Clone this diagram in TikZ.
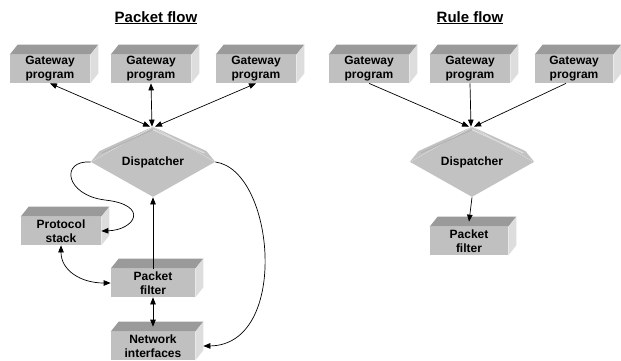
\documentclass[tikz,border=0pt]{standalone}
\usepackage{fontspec}
\setmainfont{Liberation Sans}
\usepackage{tikz}
\usetikzlibrary{shapes.geometric,arrows.meta}

\definecolor{boxfront}{HTML}{C0C0C0}
\definecolor{boxtop}{HTML}{9A9A9A}
\definecolor{boxside}{HTML}{DDDDDD}
\definecolor{dispfill}{HTML}{C2C2C2}

\tikzset{
  block/.style={fill=boxfront, minimum width=80, minimum height=28, inner sep=0pt,
    align=center, font=\bfseries\fontsize{12}{14}\selectfont},
  dispatch/.style={diamond, aspect=1.8, fill=dispfill, minimum width=124, minimum height=70,
    inner sep=0pt, font=\bfseries\fontsize{12}{14}\selectfont},
  heading/.style={anchor=base, font=\bfseries\fontsize{15}{18}\selectfont},
  onearrow/.style={-{Triangle[length=7pt,width=5.5pt]}},
  twoarrow/.style={{Triangle[length=7pt,width=5.5pt]}-{Triangle[length=7pt,width=5.5pt]}},
}

\begin{document}
\begin{tikzpicture}[x=1pt, y=-1pt, line width=0.7pt]
  \useasboundingbox (0,0) rectangle (621,360);

  \node[heading] (packetflow) at (156,22) {\underline{Packet flow}};
  \node[heading] (ruleflow) at (470,22) {\underline{Rule flow}};

  \node[block] (gw1) at (50,69) {Gateway\\program};
  \node[block] (gw2) at (151,69) {Gateway\\program};
  \node[block] (gw3) at (256,69) {Gateway\\program};
  \node[dispatch] (disp) at (153,162) {Dispatcher};
  \node[block] (stack) at (61,231) {Protocol\\stack};
  \node[block, minimum width=84] (filter) at (153,283) {Packet\\filter};
  \node[block, minimum width=84] (nic) at (153,346) {Network\\interfaces};

  \node[block] (rgw1) at (369,69) {Gateway\\program};
  \node[block] (rgw2) at (470,69) {Gateway\\program};
  \node[block, minimum width=78] (rgw3) at (574,69) {Gateway\\program};
  \node[dispatch] (rdisp) at (472,162) {Dispatcher};
  \node[block, minimum width=78] (rfilter) at (469,241) {Packet\\filter};

  \foreach \b in {gw1,gw2,gw3,stack,filter,nic,rgw1,rgw2,rgw3,rfilter} {
    \fill[boxtop] (\b.north west) -- ([shift={(8,-10)}]\b.north west)
      -- ([shift={(8,-10)}]\b.north east) -- (\b.north east) -- cycle;
    \fill[boxside] (\b.north east) -- ([shift={(8,-10)}]\b.north east)
      -- ([shift={(8,-10)}]\b.south east) -- (\b.south east) -- cycle;
  }

  \foreach \d in {disp,rdisp} {
    \fill[dispfill] (\d.north) -- ([shift={(9,-11)}]\d.west) -- (\d.west) -- cycle;
    \fill[dispfill] (\d.north) -- ([shift={(-9,-11)}]\d.east) -- (\d.east) -- cycle;
    \draw[line width=1.2pt, white!45!dispfill] ([yshift=-3]\d.north) -- ([shift={(-11,-9)}]\d.east);
    \draw[line width=1pt, black!8!dispfill] ([yshift=-3]\d.north) -- ([shift={(11,-9)}]\d.west);
  }

  \draw[twoarrow] (gw1.south) -- ([xshift=-3]disp.north);
  \draw[twoarrow] (gw2.south) -- ([xshift=-1]disp.north);
  \draw[twoarrow] (gw3.south) -- ([xshift=2]disp.north);
  \draw[onearrow] (disp.west) .. controls (60,160) and (65,195) .. (105,200)
    .. controls (150,205) and (135,230) .. (stack.east);
  \draw[twoarrow] (stack.south) .. controls +(0,25) and +(-30,0) .. (filter.west);
  \draw[onearrow] (filter.north) -- (disp.south);
  \draw[twoarrow] (filter.south) -- ([yshift=5]nic.north);
  \draw[onearrow] (disp.east) .. controls (275,170) and (290,345) .. ([xshift=8]nic.east);

  \draw[onearrow] (rgw1.south) -- ([xshift=-3]rdisp.north);
  \draw[onearrow] (rgw2.south) -- ([xshift=-1]rdisp.north);
  \draw[onearrow] ([xshift=-8]rgw3.south) -- ([xshift=2]rdisp.north);
  \draw[onearrow] (rdisp.south) -- ([yshift=5]rfilter.north);
\end{tikzpicture}
\end{document}
